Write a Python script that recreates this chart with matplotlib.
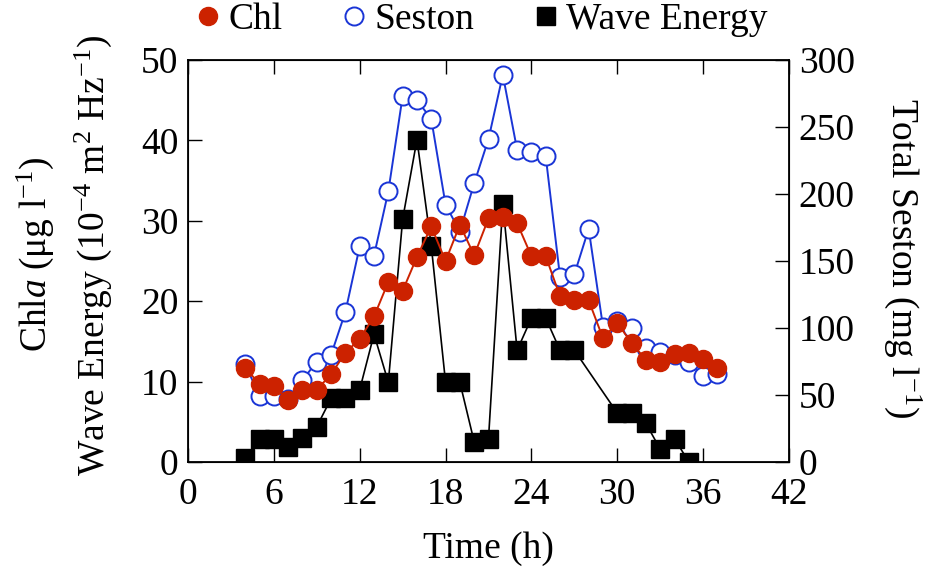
import matplotlib
matplotlib.use("Agg")
import matplotlib.pyplot as plt

plt.rcParams['font.family'] = ['Liberation Serif', 'DejaVu Serif']
plt.rcParams['mathtext.fontset'] = 'custom'
plt.rcParams['mathtext.rm'] = 'Liberation Serif'
plt.rcParams['mathtext.it'] = 'Liberation Serif:italic'

# Chl a (left axis), hourly from 4 h to 37 h
chl_time = list(range(4, 38))
chl = [11.7, 9.7, 9.5, 7.7, 9.0, 9.0, 10.9, 13.6, 15.3, 18.1, 22.4, 21.3,
       25.5, 29.3, 25.0, 29.5, 25.7, 30.3, 30.5, 29.7, 25.6, 25.6, 20.6,
       20.1, 20.1, 15.4, 17.3, 14.8, 12.7, 12.5, 13.4, 13.5, 12.8, 11.7]

# Total seston (right axis)
seston_time = list(range(4, 38))
seston = [73, 49, 49, 47, 61, 75, 80, 112, 161, 154, 202, 273, 270, 256,
          192, 172, 208, 241, 289, 233, 231, 228, 138, 140, 174, 101, 105,
          100, 85, 82, 80, 75, 64, 66]

# Wave energy (left axis), no data at 28-29 h
wave_time = list(range(4, 28)) + list(range(30, 36))
wave = [0.5, 2.9, 2.9, 1.9, 3.0, 4.4, 7.9, 7.9, 9.0, 15.9, 9.9, 30.2, 40.1,
        26.9, 9.9, 9.9, 2.5, 2.9, 32.1, 13.9, 17.9, 17.9, 13.9, 13.9,
        6.1, 6.1, 4.8, 1.6, 2.9, 0.0]

fig = plt.figure(figsize=(9.31, 5.69), dpi=100)
ax1 = fig.add_axes([188/931, 1-462/569, (789-188)/931, (462-60)/569])
ax2 = ax1.twinx()
ax1.set_zorder(ax2.get_zorder() + 1)
ax1.patch.set_visible(False)

ms = 13
l_sest, = ax2.plot(seston_time, seston, color='#1a35d6', lw=1.4, marker='o', ms=ms,
                   mfc='white', mec='#1a35d6', mew=1.4, label='Seston')
l_wave, = ax1.plot(wave_time, wave, color='black', lw=1.2, marker='s', ms=ms,
                   mfc='black', mec='black', label='Wave Energy')
l_chl, = ax1.plot(chl_time, chl, color='#cc2200', lw=1.4, marker='o', ms=ms,
                  mfc='#cc2200', mec='#cc2200', label='Chl')

fs = 27
ax1.set_xlim(0, 42)
ax1.set_ylim(0, 50)
ax2.set_ylim(0, 300)
ax1.set_xticks(range(0, 43, 6))
ax1.set_yticks(range(0, 51, 10))
ax2.set_yticks(range(0, 301, 50))
ax1.tick_params(axis='both', direction='in', labelsize=fs, length=10, width=1,
                top=True, right=False, pad=7)
ax1.tick_params(axis='x', pad=11)
ax2.tick_params(axis='y', direction='in', labelsize=fs, length=10, width=1, pad=7)
for sp in ax1.spines.values():
    sp.set_linewidth(1.3)

ax1.set_xlabel('Time (h)', fontsize=fs, labelpad=14)
fig.text(35/931, 1-254/569, r'Chl$\mathit{a}$ (μg l$^{-1}$)', fontsize=fs,
         rotation=90, ha='center', va='center')
fig.text(93/931, 1-255/569, r'Wave Energy (10$^{-4}$ m$^{2}$ Hz$^{-1}$)',
         fontsize=fs, rotation=90, ha='center', va='center')
fig.text(903/931, 1-258/569, r'Total Seston (mg l$^{-1}$)', fontsize=fs,
         rotation=270, ha='center', va='center')

fig.legend(handles=[l_chl, l_sest, l_wave], loc='center', ncol=3,
           bbox_to_anchor=(483/931, 1-20/569), frameon=False, fontsize=fs,
           handlelength=0.5, handletextpad=0.3, columnspacing=1.65,
           markerscale=1.0)
# legend markers only, no line segments
leg = fig.legends[0]
for h in leg.legend_handles:
    h.set_linestyle('none')

fig.savefig('out.png', dpi=100)
